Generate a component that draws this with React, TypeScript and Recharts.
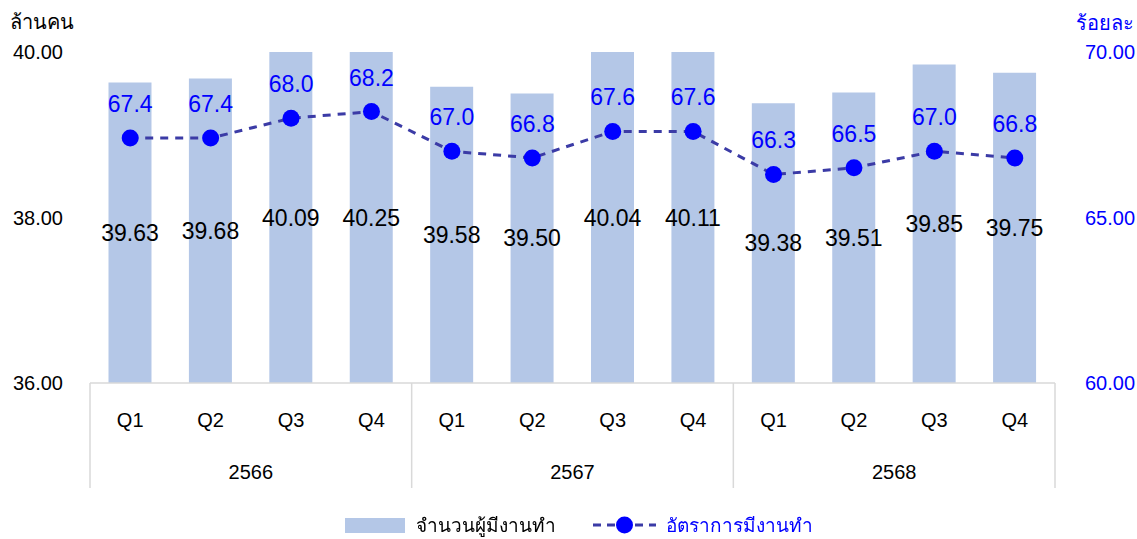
import React from "react";
import { ComposedChart, Bar, Line, XAxis, YAxis, LabelList } from "recharts";

const quarters = ["Q1", "Q2", "Q3", "Q4", "Q1", "Q2", "Q3", "Q4", "Q1", "Q2", "Q3", "Q4"];
const years = ["2566", "2567", "2568"];
const employed = [39.63, 39.68, 40.09, 40.25, 39.58, 39.5, 40.04, 40.11, 39.38, 39.51, 39.85, 39.75];
const rate = [67.4, 67.4, 68.0, 68.2, 67.0, 66.8, 67.6, 67.6, 66.3, 66.5, 67.0, 66.8];
const leftTicks = [36, 38, 40];
const rightTicks = [60, 65, 70];
const seriesNames = ["จำนวนผู้มีงานทำ", "อัตราการมีงานทำ"];
const axisTitles = ["ล้านคน", "ร้อยละ"];

const data = quarters.map((q, i) => ({
  q,
  year: years[Math.floor(i / 4)],
  employed: employed[i],
  rate: rate[i],
}));

const W = 1137;
const H = 539;
const LEFT = 90;
const RIGHT = 82;
const TOP = 52;
const BOTTOM = 51;
const XAXIS_H = 105;
const CAT_W = (W - LEFT - RIGHT) / quarters.length;
const FONT = "'Liberation Sans', Arial, sans-serif";
const THAI_FONT = "'DejaVu Sans', Tahoma, sans-serif";
const BAR_COLOR = "#B4C7E7";
const BLUE = "#0000FF";
const LINE_COLOR = "#3B3BA6";
const GRID = "#D9D9D9";

const BarValueLabel = (props: any) => {
  const { x, y, width, height, value } = props;
  const top = Math.max(y, TOP);
  const bottom = y + height;
  return (
    <text
      x={x + width / 2}
      y={(top + bottom) / 2}
      textAnchor="middle"
      dominantBaseline="central"
      fontSize={23}
      fontFamily={FONT}
      fill="#000"
    >
      {Number(value).toFixed(2)}
    </text>
  );
};

const RateLabel = (props: any) => {
  const { x, y, value } = props;
  return (
    <text
      x={x}
      y={y - 34}
      textAnchor="middle"
      dominantBaseline="central"
      fontSize={23}
      fontFamily={FONT}
      fill={BLUE}
    >
      {Number(value).toFixed(1)}
    </text>
  );
};

const XTick = (props: any) => {
  const { x, y, payload } = props;
  const i = payload.index;
  const ax = y;
  return (
    <g>
      <text
        x={x}
        y={ax + 37}
        textAnchor="middle"
        dominantBaseline="central"
        fontSize={20}
        fontFamily={FONT}
        fill="#000"
      >
        {payload.value}
      </text>
      {i % 4 === 1 && (
        <text
          x={x + CAT_W / 2}
          y={ax + 89}
          textAnchor="middle"
          dominantBaseline="central"
          fontSize={20}
          fontFamily={FONT}
          fill="#000"
        >
          {years[Math.floor(i / 4)]}
        </text>
      )}
      {i % 4 === 0 && (
        <line x1={x - CAT_W / 2} x2={x - CAT_W / 2} y1={ax} y2={ax + XAXIS_H} stroke={GRID} strokeWidth={1.5} />
      )}
      {i === quarters.length - 1 && (
        <line x1={x + CAT_W / 2} x2={x + CAT_W / 2} y1={ax} y2={ax + XAXIS_H} stroke={GRID} strokeWidth={1.5} />
      )}
    </g>
  );
};

export default function App() {
  return (
    <div style={{ position: "fixed", left: 0, top: 0, width: W, height: H, background: "#fff", fontFamily: THAI_FONT }}>
      <ComposedChart
        width={W}
        height={H}
        data={data}
        margin={{ top: TOP, right: 0, bottom: BOTTOM, left: 0 }}
        barCategoryGap="23%"
      >
        <XAxis
          xAxisId="q"
          dataKey="q"
          height={XAXIS_H}
          interval={0}
          tickLine={false}
          tickSize={0}
          tickMargin={0}
          axisLine={{ stroke: GRID, strokeWidth: 1.5 }}
          tick={<XTick />}
        />
        <YAxis
          yAxisId="left"
          orientation="left"
          width={LEFT}
          domain={[36, 40]}
          ticks={leftTicks}
          allowDataOverflow
          axisLine={false}
          tickLine={false}
          tickSize={0}
          tickMargin={27}
          tickFormatter={(v: number) => v.toFixed(2)}
          tick={{ fill: "#000", fontSize: 20, fontFamily: FONT }}
        />
        <YAxis
          yAxisId="right"
          orientation="right"
          width={RIGHT}
          domain={[60, 70]}
          ticks={rightTicks}
          allowDataOverflow
          axisLine={false}
          tickLine={false}
          tickSize={0}
          tickMargin={30}
          tickFormatter={(v: number) => v.toFixed(2)}
          tick={{ fill: BLUE, fontSize: 20, fontFamily: FONT }}
        />
        <Bar xAxisId="q" yAxisId="left" dataKey="employed" fill={BAR_COLOR} isAnimationActive={false}>
          <LabelList dataKey="employed" content={<BarValueLabel />} />
        </Bar>
        <Line
          xAxisId="q"
          yAxisId="right"
          dataKey="rate"
          stroke={LINE_COLOR}
          strokeWidth={3}
          strokeDasharray="8 7"
          dot={{ r: 8.5, fill: BLUE, stroke: BLUE, strokeWidth: 0 }}
          activeDot={false}
          isAnimationActive={false}
        >
          <LabelList dataKey="rate" content={<RateLabel />} />
        </Line>
      </ComposedChart>

      <div style={{ position: "absolute", left: 10, top: 6, fontSize: 20, color: "#000" }}>{axisTitles[0]}</div>
      <div style={{ position: "absolute", right: 3, top: 7, fontSize: 20, color: BLUE }}>{axisTitles[1]}</div>

      <div
        style={{
          position: "absolute",
          left: 345,
          top: 511,
          height: 28,
          display: "flex",
          alignItems: "center",
          fontSize: 19,
          whiteSpace: "nowrap",
        }}
      >
        <svg width={60} height={15} style={{ marginRight: 11 }}>
          <rect x={0} y={0} width={60} height={15} fill={BAR_COLOR} />
        </svg>
        <span style={{ color: "#000", marginRight: 37 }}>{seriesNames[0]}</span>
        <svg width={63} height={20} style={{ marginRight: 10 }}>
          <line x1={0} x2={63} y1={10} y2={10} stroke={LINE_COLOR} strokeWidth={3} strokeDasharray="8 6" />
          <circle cx={31.5} cy={10} r={8.5} fill={BLUE} />
        </svg>
        <span style={{ color: BLUE }}>{seriesNames[1]}</span>
      </div>
    </div>
  );
}
